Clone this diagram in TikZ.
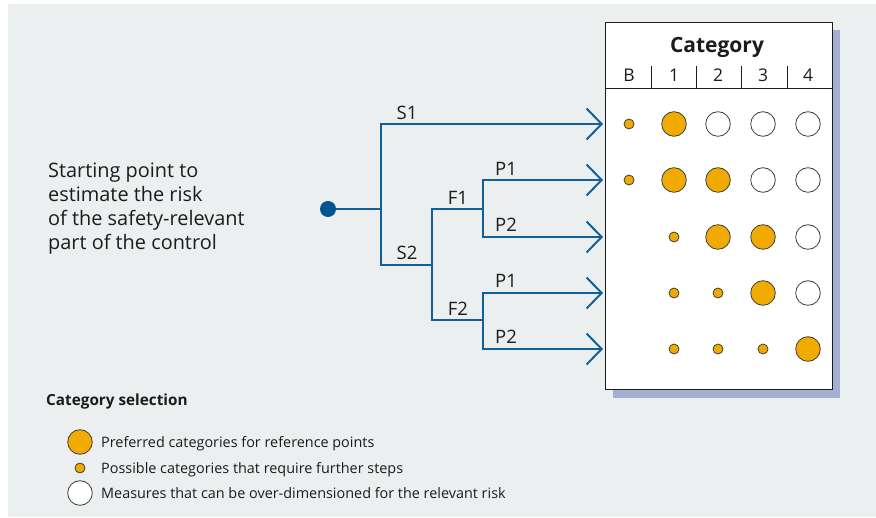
\documentclass[tikz,border=0pt]{standalone}
\usepackage{fontspec}
\setmainfont{Open Sans}
\usetikzlibrary{arrows.meta}
\definecolor{panel}{RGB}{235,239,240}
\definecolor{flowblue}{RGB}{18,96,152}
\definecolor{dotblue}{RGB}{0,84,145}
\definecolor{amber}{RGB}{240,170,0}
\definecolor{shadowblue}{RGB}{163,176,208}
\definecolor{ink}{RGB}{28,28,28}
\begin{document}
\begin{tikzpicture}[x=1pt,y=-1pt,
  flow/.style={draw=flowblue, line width=2pt},
  tipped/.style={-{Straight Barb[length=15pt,width=31pt,line width=2pt]}},
  startdot/.style={circle, fill=dotblue, minimum size=16pt, inner sep=0pt},
  lbl/.style={text=ink, font=\fontsize{18.5}{18}\selectfont, inner sep=0pt},
  bigdot/.style={circle, draw=ink!85, line width=0.8pt, fill=amber, minimum size=24.6pt, inner sep=0pt},
  smalldot/.style={circle, draw=ink!85, line width=0.8pt, fill=amber, minimum size=10pt, inner sep=0pt},
  opendot/.style={circle, draw=ink!85, line width=0.8pt, fill=white, minimum size=24.6pt, inner sep=0pt},
  colhead/.style={text=ink, font=\fontsize{17.5}{18}\selectfont, inner sep=0pt, anchor=base},
  legtext/.style={text=ink, font=\fontsize{14.4}{16}\selectfont, anchor=base west, inner sep=0pt},
]
% canvas and panel
\fill[white] (0,0) rectangle (876,518);
\fill[panel] (8,4) rectangle (876,517);
\useasboundingbox (0,0) rectangle (876,518);

% category table with its drop shadow
\fill[shadowblue] (613,30) rectangle (840,398);
\node[draw=ink, line width=1pt, fill=white, minimum width=227pt, minimum height=367pt,
      inner sep=0pt, anchor=north west] (table) at (605,22) {};
\node[text=ink, font=\bfseries\fontsize{21}{21}\selectfont, inner sep=0pt, anchor=base] (cat) at (717,52.5) {Category};
\draw[ink, line width=0.9pt] (605,88) -- (832,88);
\foreach \x in {651,696,741,787} \draw[ink, line width=0.9pt] (\x,66) -- (\x,88);
\node[colhead] (hB) at (629,82) {B};
\node[colhead] (h1) at (674,82) {1};
\node[colhead] (h2) at (718,82) {2};
\node[colhead] (h3) at (763,82) {3};
\node[colhead] (h4) at (808,82) {4};

% row targets at the left edge of the table
\coordinate (r1) at (603,124);
\coordinate (r2) at (603,180);
\coordinate (r3) at (603,237);
\coordinate (r4) at (603,293);
\coordinate (r5) at (603,349);

% decision tree
\node[startdot] (start) at (328,209) {};
\coordinate (jS) at (381,209);
\coordinate (jF) at (432,265);
\coordinate (jP1) at (483,209);
\coordinate (jP2) at (483,320);
\draw[flow] (start) -- (jS);
\draw[flow, tipped] (jS) |- (r1);
\draw[flow] (jS) |- (jF);
\draw[flow] (jF) |- (jP1);
\draw[flow] (jF) |- (jP2);
\draw[flow, tipped] (jP1) |- (r2);
\draw[flow, tipped] (jP1) |- (r3);
\draw[flow, tipped] (jP2) |- (r4);
\draw[flow, tipped] (jP2) |- (r5);

\node[lbl] (lS1) at (407,113) {S1};
\node[lbl] (lS2) at (407,253) {S2};
\node[lbl] (lF1) at (458,198) {F1};
\node[lbl] (lF2) at (458,309) {F2};
\node[lbl] (lP1a) at (506,169) {P1};
\node[lbl] (lP2a) at (506,225) {P2};
\node[lbl] (lP1b) at (506,281) {P1};
\node[lbl] (lP2b) at (506,337) {P2};

\node[text=ink, font=\fontsize{19.9}{24}\selectfont, align=left, anchor=west, inner sep=0pt] (intro) at (48,209)
  {Starting point to\\estimate the risk\\of the safety-relevant\\part of the control};

% category marks, row by row
\node[smalldot] (m1B) at (629,124) {};
\node[bigdot]   (m11) at (674,124) {};
\node[opendot]  (m12) at (718,124) {};
\node[opendot]  (m13) at (763,124) {};
\node[opendot]  (m14) at (808,124) {};

\node[smalldot] (m2B) at (629,180) {};
\node[bigdot]   (m21) at (674,180) {};
\node[bigdot]   (m22) at (718,180) {};
\node[opendot]  (m23) at (763,180) {};
\node[opendot]  (m24) at (808,180) {};

\node[smalldot] (m31) at (674,237) {};
\node[bigdot]   (m32) at (718,237) {};
\node[bigdot]   (m33) at (763,237) {};
\node[opendot]  (m34) at (808,237) {};

\node[smalldot] (m41) at (674,293) {};
\node[smalldot] (m42) at (718,293) {};
\node[bigdot]   (m43) at (763,293) {};
\node[opendot]  (m44) at (808,293) {};

\node[smalldot] (m51) at (674,349) {};
\node[smalldot] (m52) at (718,349) {};
\node[smalldot] (m53) at (763,349) {};
\node[bigdot]   (m54) at (808,349) {};

% legend
\node[text=ink, font=\bfseries\fontsize{15.3}{16}\selectfont, anchor=base west, inner sep=0pt] (legtitle) at (46,406) {Category selection};
\node[bigdot]   (kbig) at (80,442) {};
\node[smalldot] (ksmall) at (80,468) {};
\node[opendot]  (kopen) at (80,493) {};
\node[legtext] (tbig) at (101,447.5) {Preferred categories for reference points};
\node[legtext] (tsmall) at (101,473.5) {Possible categories that require further steps};
\node[legtext] (topen) at (101,498.5) {Measures that can be over-dimensioned for the relevant risk};
\end{tikzpicture}
\end{document}
